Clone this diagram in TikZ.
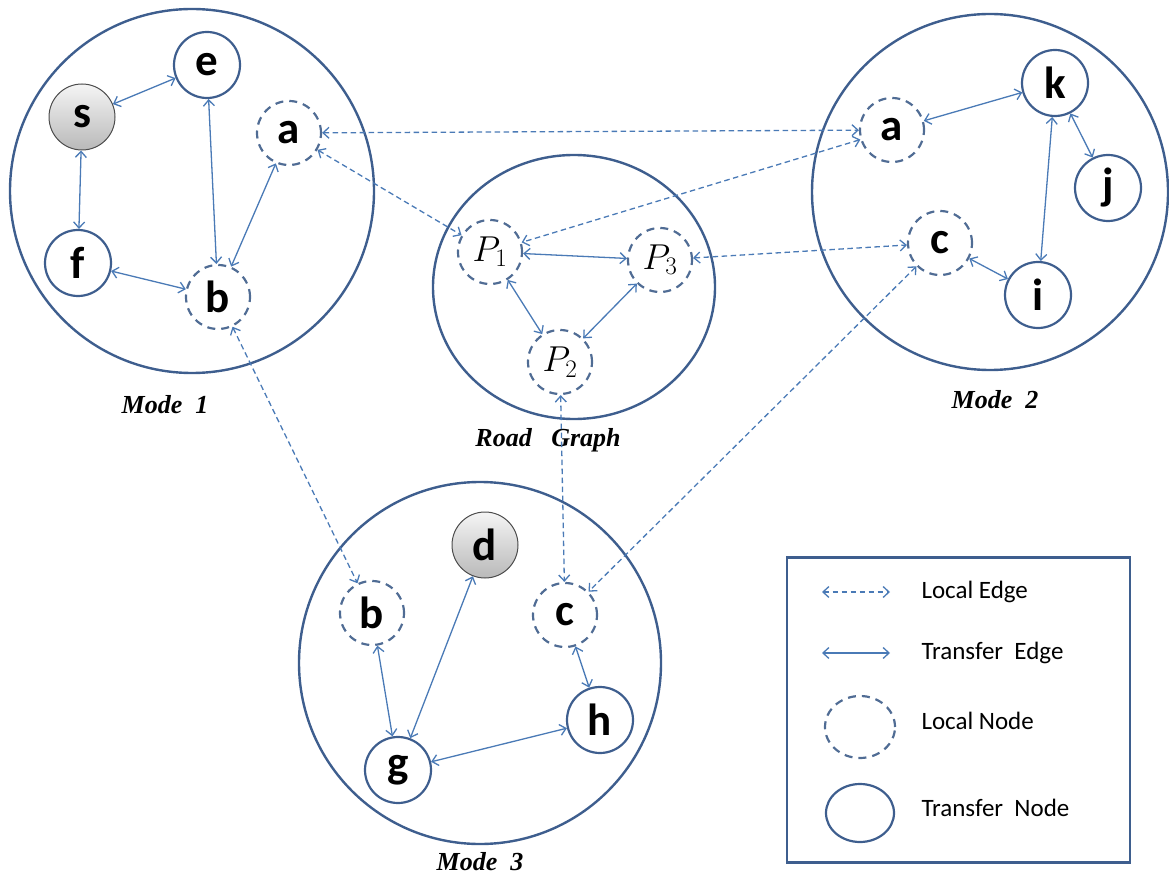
\RequirePackage{fix-cm}
\documentclass[tikz,border=0pt]{standalone}
\usepackage{fontspec}
\setmainfont{Carlito}
\newfontfamily\labelfont{Liberation Serif}
\usetikzlibrary{arrows.meta,shapes.geometric}
\definecolor{ringblue}{RGB}{62,94,142}
\definecolor{edgeblue}{RGB}{74,122,182}
\definecolor{dashblue}{RGB}{80,108,148}
\tikzset{
  ring/.style={draw=ringblue, line width=2.4pt},
  tnode/.style={circle, draw=ringblue, line width=2.2pt, minimum size=66pt, inner sep=0pt,
    font=\fontsize{45}{45}\selectfont\bfseries},
  lnode/.style={circle, draw=dashblue, line width=2.2pt, dash pattern=on 8pt off 6pt,
    minimum size=64pt, inner sep=0pt, font=\fontsize{45}{45}\selectfont\bfseries},
  pnode/.style={lnode, font=\fontsize{36}{36}\selectfont},
  endnode/.style={tnode, draw=black!70, line width=1pt, top color=gray!8, bottom color=gray!55},
  tedge/.style={draw=edgeblue, line width=1.3pt, {Straight Barb[length=6pt,width=11pt]}-{Straight Barb[length=6pt,width=11pt]}},
  ledge/.style={tedge, dash pattern=on 5.5pt off 3.5pt},
  modelabel/.style={font=\labelfont\itshape\bfseries\fontsize{26}{26}\selectfont},
  legtext/.style={anchor=west, font=\fontsize{25}{25}\selectfont},
}
\begin{document}
\begin{tikzpicture}[x=1pt,y=-1pt]
\useasboundingbox (0,0) rectangle (1169,882);

% mode rings
\draw[ring] (192,191) circle (182);
\draw[ring] (574,287) ellipse (141 and 132);
\draw[ring] (990,192) circle (178);
\draw[ring] (480,663) circle (181);

\node[modelabel] (lab1) at (165,405) {Mode\ \ 1};
\node[modelabel] (labr) at (548,440) {Road\ \ \ Graph};
\node[modelabel] (lab2) at (995,400) {Mode\ \ 2};
\node[modelabel] (lab3) at (480,862) {Mode\ \ 3};

% Mode 1
\node[endnode] (s1) at (82,117) {s};
\node[tnode] (e1) at (207,65) {e};
\node[lnode] (a1) at (289,133) {a};
\node[tnode] (f1) at (78,263) {f};
\node[lnode] (b1) at (218,297) {b};

% Road graph
\node[pnode] (p1) at (490,252) {$P_1$};
\node[pnode] (p3) at (660,260) {$P_3$};
\node[pnode] (p2) at (560,362) {$P_2$};

% Mode 2
\node[lnode] (a2) at (892,130) {a};
\node[tnode] (k2) at (1055,83) {k};
\node[tnode] (j2) at (1108,188) {j};
\node[lnode] (c2) at (940,243) {c};
\node[tnode] (i2) at (1038,295) {i};

% Mode 3
\node[endnode] (d3) at (485,545) {d};
\node[lnode] (b3) at (372,613) {b};
\node[lnode] (c3) at (565,615) {c};
\node[tnode] (h3) at (600,720) {h};
\node[tnode] (g3) at (398,770) {g};

% transfer edges
\draw[tedge] (s1) -- (e1);
\draw[tedge] (s1) -- (f1);
\draw[tedge] (e1) -- (b1);
\draw[tedge] (a1) -- (b1);
\draw[tedge] (f1) -- (b1);
\draw[tedge] (p1) -- (p3);
\draw[tedge] (p1) -- (p2);
\draw[tedge] (p3) -- (p2);
\draw[tedge] (a2) -- (k2);
\draw[tedge] (k2) -- (j2);
\draw[tedge] (k2) -- (i2);
\draw[tedge] (c2) -- (i2);
\draw[tedge] (b3) -- (g3);
\draw[tedge] (d3) -- (g3);
\draw[tedge] (g3) -- (h3);
\draw[tedge] (c3) -- (h3);

% local edges
\draw[ledge] (a1) -- (a2);
\draw[ledge] (a1) -- (p1);
\draw[ledge] (a2) -- (p1);
\draw[ledge] (p3) -- (c2);
\draw[ledge] (b1) -- (b3);
\draw[ledge] (p2) -- (c3);
\draw[ledge] (c2) -- (c3);

% legend
\node[draw=ringblue, line width=2.2pt, minimum width=343pt, minimum height=305pt, inner sep=0pt]
  (legend) at (958.5,710) {};
\coordinate (le1) at (822,592);
\coordinate (le2) at (890,592);
\draw[ledge] (le1) -- (le2);
\node[legtext] (tle) at (918,592) {Local Edge};
\coordinate (te1) at (822,653);
\coordinate (te2) at (890,653);
\draw[tedge] (te1) -- (te2);
\node[legtext] (tte) at (918,653) {Transfer\ \ Edge};
\node[draw=dashblue, line width=2.2pt, dash pattern=on 8pt off 6pt, ellipse, minimum width=70pt,
  minimum height=62pt, inner sep=0pt] (lln) at (860,727) {};
\node[legtext] (tln) at (918,721) {Local Node};
\node[draw=ringblue, line width=2.2pt, ellipse, minimum width=68pt,
  minimum height=58pt, inner sep=0pt] (ltn) at (860,813) {};
\node[legtext] (ttn) at (918,808) {Transfer\ \ Node};
\end{tikzpicture}
\end{document}
